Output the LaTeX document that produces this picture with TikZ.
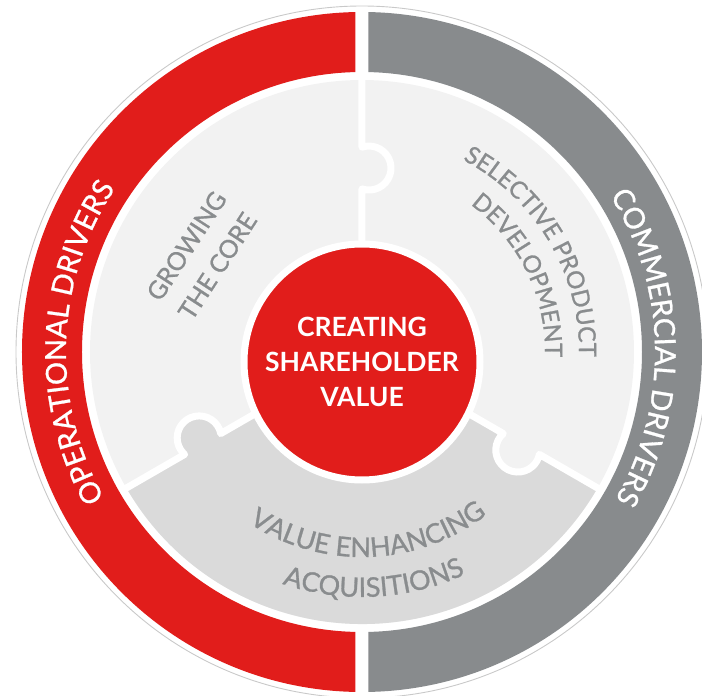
\documentclass[tikz,border=0pt]{standalone}
\usepackage{fontspec}
\setmainfont{Lato}
\newfontfamily\labelfamily{Lato}[FakeBold=1.0]
\usetikzlibrary{decorations.text}

\definecolor{brandred}{HTML}{E11D1B}
\definecolor{ringgray}{HTML}{888B8D}
\definecolor{pale}{HTML}{F2F2F2}
\definecolor{tabgray}{HTML}{DADADA}
\definecolor{labelgray}{HTML}{898C8E}
\definecolor{rim}{HTML}{C9C9C9}

\newcommand\ringfont{\labelfamily\fontsize{29}{29}\selectfont}
\newcommand\piecefont{\labelfamily\fontsize{24}{24}\selectfont}
\newcommand\lowerfont{\labelfamily\fontsize{27}{27}\selectfont}

\tikzset{
  rimline/.style={draw=rim, line width=0.9pt},
  divider/.style={draw=white, line width=7pt, line join=round},
  core/.style={circle, fill=brandred, draw=white, line width=7pt,
    minimum size=236pt, inner sep=0pt, text=white, align=center,
    font=\fontsize{26.5}{35}\selectfont\bfseries},
  piece/.style={text=labelgray, align=center,
    font=\labelfamily\fontsize{25}{37}\selectfont},
}

\begin{document}
\begin{tikzpicture}[x=1pt,y=1pt]
\useasboundingbox (-362,-344) rectangle (340,352);

% thin rim around everything
\draw[rimline] (0,0) circle (346);

% outer half rings
\begin{scope}
  \clip (-400,-400) rectangle (-6.5,400);
  \fill[brandred, even odd rule] (0,0) circle (340) (0,0) circle (280);
\end{scope}
\begin{scope}
  \clip (6.5,-400) rectangle (400,400);
  \fill[ringgray, even odd rule] (0,0) circle (340) (0,0) circle (280);
\end{scope}

% inner disk and the lower puzzle piece
\fill[pale] (0,0) circle (272);
\fill[tabgray] (0,0) -- (210:272) arc[start angle=210, end angle=330, radius=272] -- cycle;
\fill[tabgray, rotate=210] (184,-7) circle (22);
\fill[pale, rotate=330] (184,-7) circle (22);

% white seams with puzzle tabs
\foreach \a in {90,210,330}
  \draw[divider, rotate=\a] (0,0) -- (163.1,0)
    arc[start angle=161.4, end angle=378.6, radius=22] -- (276,0);

% centre disc
\node[core] (core) at (0,-10) {CREATING\\SHAREHOLDER\\VALUE};

% ring labels
\path[decorate, decoration={text along path, text align=center, text color=white,
  text={|\ringfont|OPERATIONAL DRIVERS}}]
  (212:296) arc[start angle=212, end angle=144, radius=296];
\path[decorate, decoration={text along path, text align=center, text color=white,
  text={|\ringfont|COMMERCIAL DRIVERS}}]
  (36:293) arc[start angle=36, end angle=-34, radius=293];

% piece labels
\node[piece, rotate=57] (growing) at (-160,96) {GROWING\\THE CORE};

\path[decorate, decoration={text along path, text align=center, text color=labelgray,
  text={|\piecefont|SELECTIVE PRODUCT}}]
  (76:217) arc[start angle=76, end angle=-15, radius=217];
\path[decorate, decoration={text along path, text align=center, text color=labelgray,
  text={|\piecefont|DEVELOPMENT}}]
  (76:183) arc[start angle=76, end angle=-24, radius=183];

\path[decorate, decoration={text along path, text align=center, text color=labelgray,
  text={|\lowerfont|VALUE ENHANCING}}]
  (218:205) arc[start angle=218, end angle=326, radius=205];
\path[decorate, decoration={text along path, text align=center, text color=labelgray,
  text={|\lowerfont|ACQUISITIONS}}]
  (230:245) arc[start angle=230, end angle=316, radius=245];
\end{tikzpicture}
\end{document}
